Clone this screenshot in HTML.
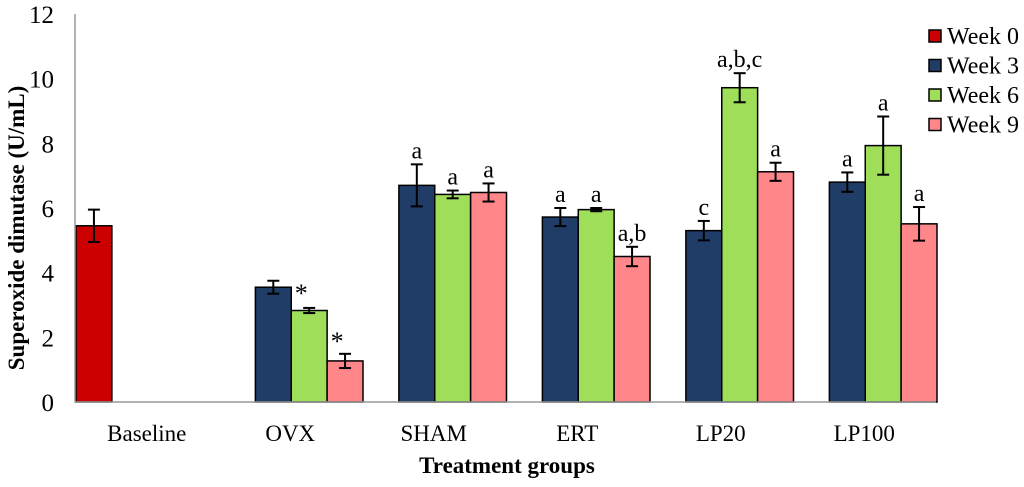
<!DOCTYPE html>
<html><head><meta charset="utf-8"><style>body{margin:0;background:#fff}svg{display:block;font-family:"Liberation Serif",serif}</style></head>
<body>
<svg id="c" width="1024" height="487"></svg>
<script>
const categories=["Baseline","OVX","SHAM","ERT","LP20","LP100"];
const seriesNames=["Week 0","Week 3","Week 6","Week 9"];
const colors=["#cc0000","#1f3d66","#9ede58","#ff878a"];
const week0=[5.45,null,null,null,null,null];
const week3=[null,3.55,6.7,5.72,5.3,6.8];
const week6=[null,2.83,6.42,5.95,9.72,7.93];
const week9=[null,1.27,6.48,4.5,7.12,5.51];
const err0=[0.5,null,null,null,null,null];
const err3=[null,0.2,0.65,0.28,0.3,0.3];
const err6=[null,0.08,0.12,0.05,0.45,0.9];
const err9=[null,0.22,0.28,0.3,0.28,0.52];
const lab0=["","","","","",""];
const lab3=["","","a","a","c","a"];
const lab6=["","*","a","a","a,b,c","a"];
const lab9=["","*","a","a,b","a","a"];
const yTicks=[0,2,4,6,8,10,12];
const svg=document.getElementById('c');const NS="http://www.w3.org/2000/svg";
function mk(t,a,p){const e=document.createElementNS(NS,t);for(const k in a)e.setAttribute(k,a[k]);(p||svg).appendChild(e);return e;}
const x0=75,x1=936,y0=402,yTop=14;
const catW=(x1-x0)/categories.length,bw=catW/4;
const y=v=>y0-(v/12)*(y0-yTop);
const xs=(ci,si)=>x0+ci*catW+si*bw+1;
yTicks.forEach(t=>{const e=mk('text',{x:54,y:y(t)+9,'text-anchor':'end','font-size':25,fill:'#000'});e.textContent=t;

});
const vals=[week0,week3,week6,week9],errs=[err0,err3,err6,err9],labs=[lab0,lab3,lab6,lab9];
vals.forEach((s,si)=>s.forEach((v,ci)=>{if(v==null)return;
const bx=xs(ci,si);
const r=mk('rect',{x:bx,y:y(v),width:bw,height:y0-y(v),fill:colors[si],stroke:'#000','stroke-width':1.5});


const e=errs[si][ci],cx=bx+bw/2;
const g=mk('g',{stroke:'#000','stroke-width':2});


mk('line',{x1:cx,x2:cx,y1:y(v+e),y2:y(v-e)},g);
mk('line',{x1:cx-6,x2:cx+6,y1:y(v+e),y2:y(v+e)},g);
mk('line',{x1:cx-6,x2:cx+6,y1:y(v-e),y2:y(v-e)},g);
const L=labs[si][ci];if(L){const star=L==='*';
const t=mk('text',{x:star?cx-8:cx,y:y(v+e)-6,'text-anchor':'middle','font-size':star?26:24,fill:'#000'});t.textContent=L;
if(star)t.setAttribute('dy',si===2?'0':'2');

}
}));
const ax=mk('path',{d:`M${x0} ${yTop} V${y0} H${x1}`,fill:'none',stroke:'#999','stroke-width':1.5});


categories.forEach((c,i)=>{const t=mk('text',{x:x0+i*catW+catW/2,y:441,'text-anchor':'middle','font-size':23,fill:'#000'});t.textContent=c;

});
const xt=mk('text',{x:507,y:473,'text-anchor':'middle','font-size':23,'font-weight':'bold'});xt.textContent='Treatment groups';


const yt=mk('text',{x:0,y:0,transform:'translate(24,228) rotate(-90)','text-anchor':'middle','font-size':23,'font-weight':'bold'});yt.textContent='Superoxide dimutase (U/mL)';


seriesNames.forEach((n,i)=>{const g=mk('g',{});


const ly=30+i*29.5;mk('rect',{x:929,y:ly,width:12,height:12,fill:colors[i],stroke:'#000','stroke-width':1.5},g);
const t=mk('text',{x:947,y:ly+14,'font-size':24},g);t.textContent=n;});
</script>
</body></html>
